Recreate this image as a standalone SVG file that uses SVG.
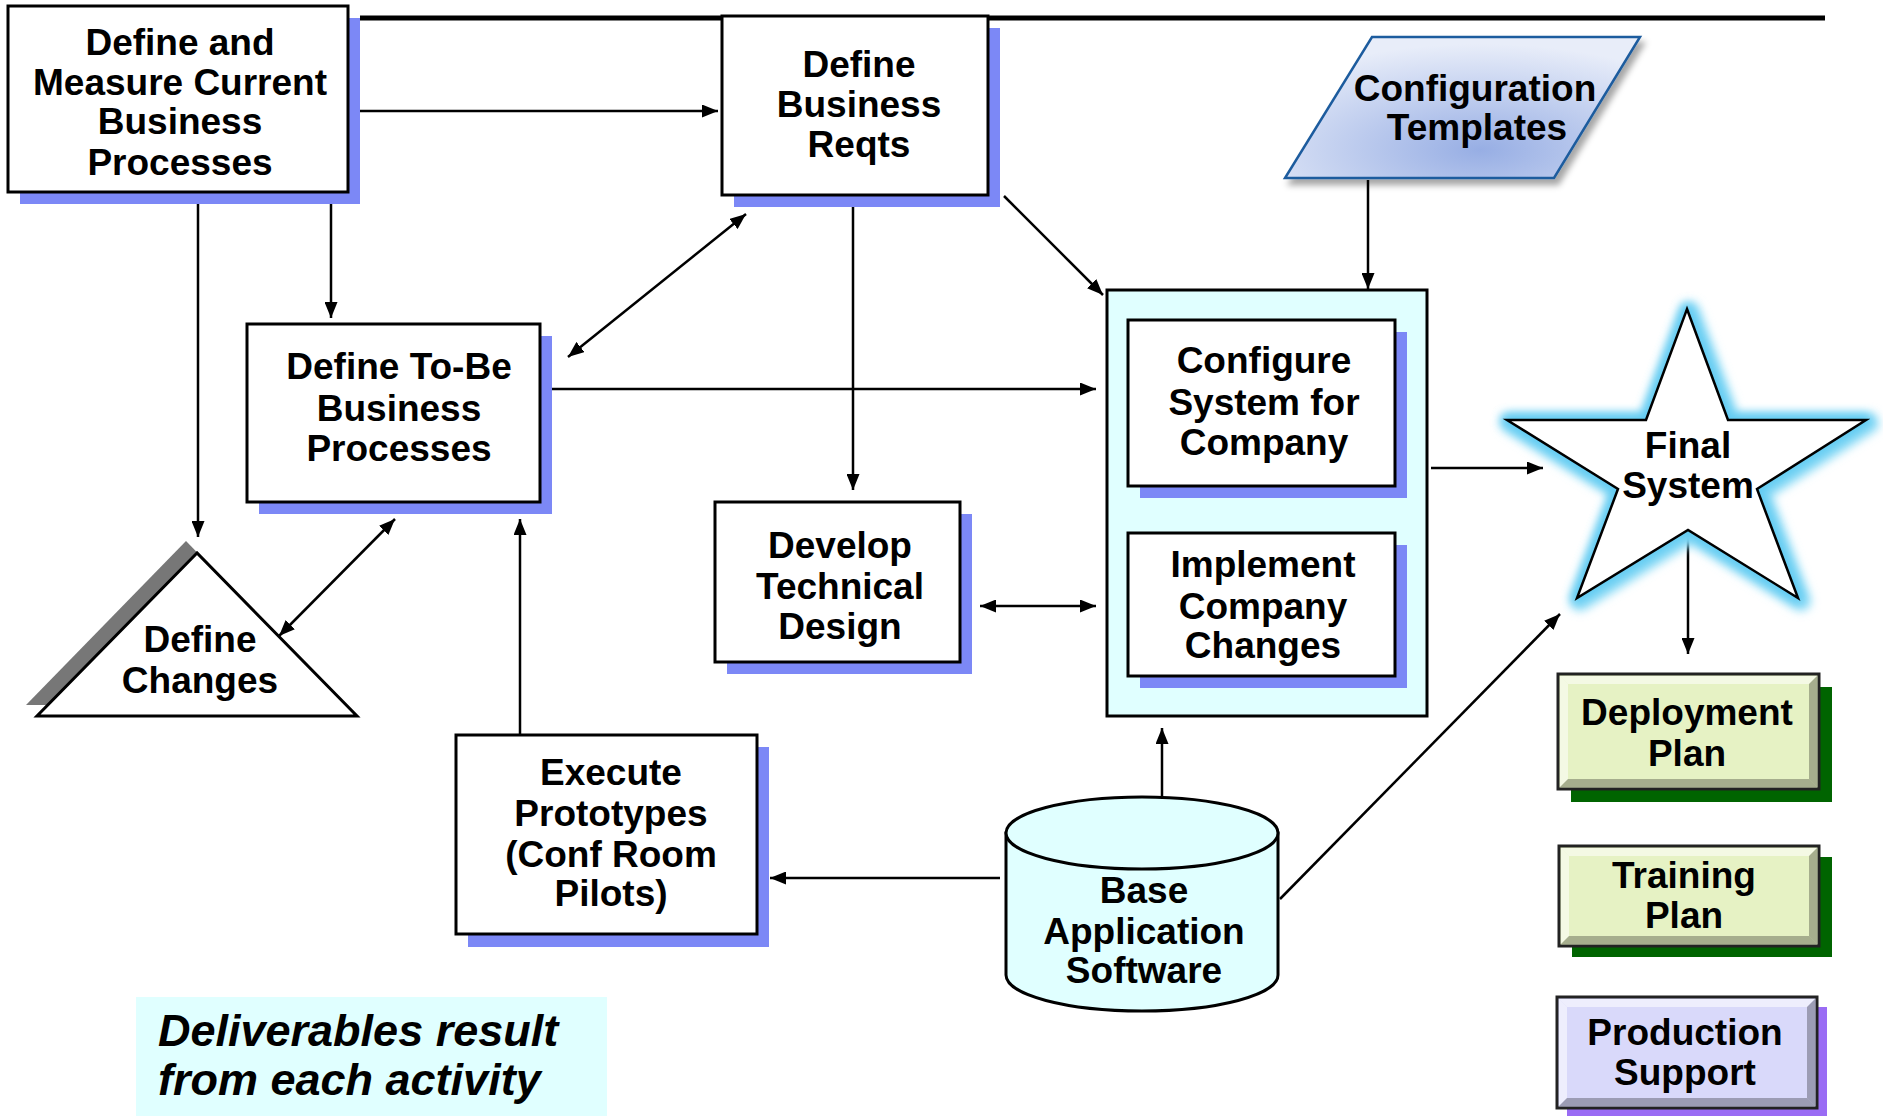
<svg xmlns="http://www.w3.org/2000/svg" width="1883" height="1116" viewBox="0 0 1883 1116">
  <defs>
    <style>
      text { font-family: "Liberation Sans", Arial, sans-serif; font-weight: bold; font-size: 37px; fill: #000; text-anchor: middle; }
      .box { fill: #fff; stroke: #000; stroke-width: 3; }
      .shadow { fill: #7c88f6; }
      .conn { fill: none; stroke: #000; stroke-width: 2.5; }
      .cyan { fill: #e0ffff; }
      .plan { fill: #e6f2c4; stroke: #222; stroke-width: 3; }
      .prod { fill: #d9d9fa; stroke: #222; stroke-width: 3; }
      .hi { fill: #fff; opacity: 0.55; }
      .lo { fill: #000; opacity: 0.28; }
      .note { font-style: italic; font-size: 45px; text-anchor: start; }
    </style>
    <marker id="ah" markerWidth="16" markerHeight="13" refX="16" refY="6.5" orient="auto-start-reverse" markerUnits="userSpaceOnUse">
      <path d="M0,0 L16,6.5 L0,13 z" fill="#000"/>
    </marker>
    <radialGradient id="tplFill" cx="0.55" cy="0.8" r="0.75">
      <stop offset="0" stop-color="#97aee4"/>
      <stop offset="1" stop-color="#e8edf9"/>
    </radialGradient>
    <filter id="soft" x="-20%" y="-20%" width="150%" height="160%">
      <feDropShadow dx="4" dy="6" stdDeviation="3" flood-color="#000" flood-opacity="0.35"/>
    </filter>
    <filter id="glow" x="-30%" y="-30%" width="160%" height="160%">
      <feGaussianBlur stdDeviation="5"/>
    </filter>
  </defs>

  <!-- heading rule across the top -->
  <line x1="360" y1="18" x2="1825" y2="18" stroke="#000" stroke-width="5"/>

  <!-- connectors -->
  <g id="connectors">
    <path class="conn" d="M348,111 H718" marker-end="url(#ah)"/>
    <path class="conn" d="M331,204 V318" marker-end="url(#ah)"/>
    <path class="conn" d="M198,204 V537" marker-end="url(#ah)"/>
    <path class="conn" d="M279,636 L395,519" marker-start="url(#ah)" marker-end="url(#ah)"/>
    <path class="conn" d="M568,357 L746,214" marker-start="url(#ah)" marker-end="url(#ah)"/>
    <path class="conn" d="M552,389 H1096" marker-end="url(#ah)"/>
    <path class="conn" d="M853,207 V490" marker-end="url(#ah)"/>
    <path class="conn" d="M1004,196 L1103,295" marker-end="url(#ah)"/>
    <path class="conn" d="M1368,180 V289" marker-end="url(#ah)"/>
    <path class="conn" d="M980,606 H1096" marker-start="url(#ah)" marker-end="url(#ah)"/>
    <path class="conn" d="M520,735 V519" marker-end="url(#ah)"/>
    <path class="conn" d="M1000,878 H770" marker-end="url(#ah)"/>
    <path class="conn" d="M1162,797 V728" marker-end="url(#ah)"/>
    <path class="conn" d="M1280,899 L1560,614" marker-end="url(#ah)"/>
    <path class="conn" d="M1431,468 H1543" marker-end="url(#ah)"/>
    <path class="conn" d="M1688,532 V654" marker-end="url(#ah)"/>
  </g>

  <g id="measure-current">
    <rect class="shadow" x="20" y="18" width="340" height="186"/>
    <rect class="box" x="8" y="6" width="340" height="186"/>
    <text x="180" y="55">Define and</text>
    <text x="180" y="95">Measure Current</text>
    <text x="180" y="134">Business</text>
    <text x="180" y="175">Processes</text>
  </g>

  <g id="business-reqts">
    <rect class="shadow" x="734" y="28" width="266" height="179"/>
    <rect class="box" x="722" y="16" width="266" height="179"/>
    <text x="859" y="77">Define</text>
    <text x="859" y="117">Business</text>
    <text x="859" y="157">Reqts</text>
  </g>

  <g id="config-templates">
    <polygon points="1372,37 1640,37 1554,178 1285,178" fill="url(#tplFill)" stroke="#1f5c9e" stroke-width="2.5" filter="url(#soft)"/>
    <text x="1475" y="101">Configuration</text>
    <text x="1477" y="140">Templates</text>
  </g>

  <g id="to-be">
    <rect class="shadow" x="259" y="336" width="293" height="178"/>
    <rect class="box" x="247" y="324" width="293" height="178"/>
    <text x="399" y="379">Define To-Be</text>
    <text x="399" y="421">Business</text>
    <text x="399" y="461">Processes</text>
  </g>

  <g id="define-changes">
    <polygon points="186,541 26,705 346,705" fill="#777"/>
    <polygon points="197,553 37,716 357,716" fill="#fff" stroke="#000" stroke-width="3"/>
    <text x="200" y="652">Define</text>
    <text x="200" y="693">Changes</text>
  </g>

  <g id="tech-design">
    <rect class="shadow" x="727" y="514" width="245" height="160"/>
    <rect class="box" x="715" y="502" width="245" height="160"/>
    <text x="840" y="558">Develop</text>
    <text x="840" y="599">Technical</text>
    <text x="840" y="639">Design</text>
  </g>

  <g id="build-stage">
    <rect class="cyan" x="1107" y="290" width="320" height="426" stroke="#000" stroke-width="3"/>
    <g id="configure-system">
      <rect class="shadow" x="1140" y="332" width="267" height="166"/>
      <rect class="box" x="1128" y="320" width="267" height="166"/>
      <text x="1264" y="373">Configure</text>
      <text x="1264" y="415">System for</text>
      <text x="1264" y="455">Company</text>
    </g>
    <g id="implement-changes">
      <rect class="shadow" x="1140" y="545" width="267" height="143"/>
      <rect class="box" x="1128" y="533" width="267" height="143"/>
      <text x="1263" y="577">Implement</text>
      <text x="1263" y="619">Company</text>
      <text x="1263" y="658">Changes</text>
    </g>
  </g>

  <g id="final-system">
    <polygon points="1690,312 1731,423 1869,423 1760,492 1801,601 1691,533 1580,601 1621,492 1510,423 1649,423" fill="none" stroke="#8fdcf6" stroke-width="20" stroke-linejoin="round" filter="url(#glow)"/>
    <polygon points="1687,309 1728,420 1866,420 1757,489 1798,598 1688,530 1577,598 1618,489 1507,420 1646,420" fill="none" stroke="#5fcaf2" stroke-width="12" stroke-linejoin="round" filter="url(#glow)"/>
    <polygon points="1687,309 1728,420 1866,420 1757,489 1798,598 1688,530 1577,598 1618,489 1507,420 1646,420" fill="#fff" stroke="#000" stroke-width="2.5"/>
    <text x="1688" y="458">Final</text>
    <text x="1688" y="498">System</text>
  </g>

  <g id="prototypes">
    <rect class="shadow" x="468" y="747" width="301" height="200"/>
    <rect class="box" x="456" y="735" width="301" height="199"/>
    <text x="611" y="785">Execute</text>
    <text x="611" y="826">Prototypes</text>
    <text x="611" y="867">(Conf Room</text>
    <text x="611" y="906">Pilots)</text>
  </g>

  <g id="base-software">
    <path d="M1006,833 V975 A136,36 0 0 0 1278,975 V833 Z" class="cyan" stroke="#000" stroke-width="3"/>
    <ellipse cx="1142" cy="833" rx="136" ry="36" class="cyan" stroke="#000" stroke-width="3"/>
    <text x="1144" y="903">Base</text>
    <text x="1144" y="944">Application</text>
    <text x="1144" y="983">Software</text>
  </g>

  <g id="deployment-plan">
    <rect x="1571" y="687" width="261" height="115" fill="#006400"/>
    <rect class="plan" x="1558" y="674" width="261" height="115"/>
    <polygon class="hi" points="1560,676 1817,676 1809,684 1568,684"/>
    <polygon class="hi" points="1560,676 1568,684 1568,779 1560,787"/>
    <polygon class="lo" points="1560,787 1568,779 1809,779 1817,787"/>
    <polygon class="lo" points="1817,676 1817,787 1809,779 1809,684"/>
    <text x="1687" y="725">Deployment</text>
    <text x="1687" y="766">Plan</text>
  </g>

  <g id="training-plan">
    <rect x="1572" y="857" width="260" height="100" fill="#006400"/>
    <rect class="plan" x="1559" y="846" width="260" height="100"/>
    <polygon class="hi" points="1561,848 1817,848 1809,856 1569,856"/>
    <polygon class="hi" points="1561,848 1569,856 1569,936 1561,944"/>
    <polygon class="lo" points="1561,944 1569,936 1809,936 1817,944"/>
    <polygon class="lo" points="1817,848 1817,944 1809,936 1809,856"/>
    <text x="1684" y="888">Training</text>
    <text x="1684" y="928">Plan</text>
  </g>

  <g id="production-support">
    <rect x="1567" y="1007" width="260" height="111" fill="#9a6cf4"/>
    <rect class="prod" x="1557" y="997" width="260" height="111"/>
    <polygon class="hi" points="1559,999 1815,999 1807,1007 1567,1007"/>
    <polygon class="hi" points="1559,999 1567,1007 1567,1098 1559,1106"/>
    <polygon class="lo" points="1559,1106 1567,1098 1807,1098 1815,1106"/>
    <polygon class="lo" points="1815,999 1815,1106 1807,1098 1807,1007"/>
    <text x="1685" y="1045">Production</text>
    <text x="1685" y="1085">Support</text>
  </g>

  <g id="deliverables-note">
    <rect class="cyan" x="136" y="997" width="471" height="119"/>
    <text class="note" x="158" y="1046">Deliverables result</text>
    <text class="note" x="158" y="1095">from each activity</text>
  </g>
</svg>
